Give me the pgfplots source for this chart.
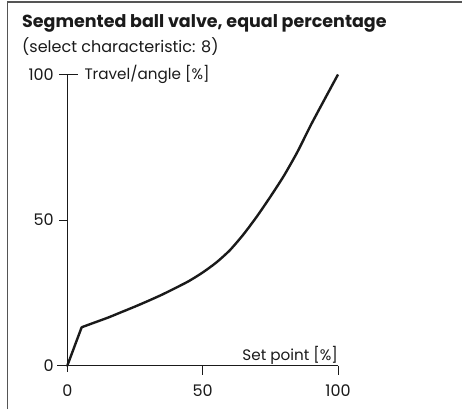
\documentclass[border=0pt]{standalone}
\usepackage{pgfplots}
\pgfplotsset{compat=1.18}
\usepackage{fontspec}
\setmainfont{Poppins}
\definecolor{framegray}{HTML}{555555}
\definecolor{ink}{HTML}{1A1A1A}
\begin{document}
\begin{tikzpicture}
\useasboundingbox (0,0) rectangle (462pt,409pt);
\draw[framegray, line width=1.5pt] (7.5pt,0) -- (7.5pt,407pt) -- (462pt,407pt);
\node[anchor=base west, inner sep=0pt, font=\fontsize{17.5}{19}\selectfont\bfseries, text=ink] at (22pt,381pt) {Segmented ball valve, equal percentage};
\node[anchor=base west, inner sep=0pt, font=\fontsize{16}{18}\selectfont, text=ink] at (22pt,356pt) {(select characteristic: 8)};
\begin{axis}[
  at={(67.3pt,43.3pt)}, anchor=south west,
  scale only axis, width=270.7pt, height=291.2pt,
  xmin=0, xmax=100, ymin=0, ymax=100,
  axis lines=left, axis line style={-, line width=0.8pt, ink},
  xtick={0,50,100}, ytick={0,50,100},
  major tick length=0pt,
  /pgf/number format/assume math mode=true,
  tick label style={font=\fontsize{16}{18}\selectfont, text=ink},
  xticklabel style={anchor=base, yshift=-31pt},
  yticklabel style={anchor=east, xshift=-10pt},
  clip=false,
]
\addplot[ink, line width=2.4pt, line join=round, line cap=round] coordinates {(0,0) (5.3,13.2)};
\addplot[ink, line width=2.4pt, line join=round, smooth, tension=0.4] coordinates {
(5.3,13.2) (10,14.8) (15,16.5) (20,18.4) (25,20.3) (30,22.3) (35,24.4)
(40,26.7) (45,29.1) (50,32.0) (55,35.4) (60,39.6) (65,45.0) (70,51.2) (75,58.0)
(80,65.2) (85,73.4) (90,82.7) (95,91.4) (100,100)};
% ticks
\draw[ink, line width=0.8pt] (axis cs:0,0) -- ++(0,-6pt);
\draw[ink, line width=0.8pt] (axis cs:50,0) -- ++(0,-9pt);
\draw[ink, line width=0.8pt] (axis cs:100,0) -- ++(0,-9pt);
\draw[ink, line width=0.8pt] (axis cs:0,0) -- ++(-10pt,0);
\draw[ink, line width=0.8pt] (axis cs:0,50) -- ++(-8pt,0);
\draw[ink, line width=0.8pt] (axis cs:0,100) ++(-8pt,0) -- ++(18.5pt,0);
\node[anchor=west, inner sep=0pt, font=\fontsize{15.2}{17}\selectfont, text=ink] at ([xshift=17pt]axis cs:0,100) {Travel/angle [\%]};
\node[anchor=base east, inner sep=0pt, font=\fontsize{15.2}{17}\selectfont, text=ink] at ([yshift=5.5pt]axis cs:100,0) {Set point [\%]};
\end{axis}
\end{tikzpicture}
\end{document}
